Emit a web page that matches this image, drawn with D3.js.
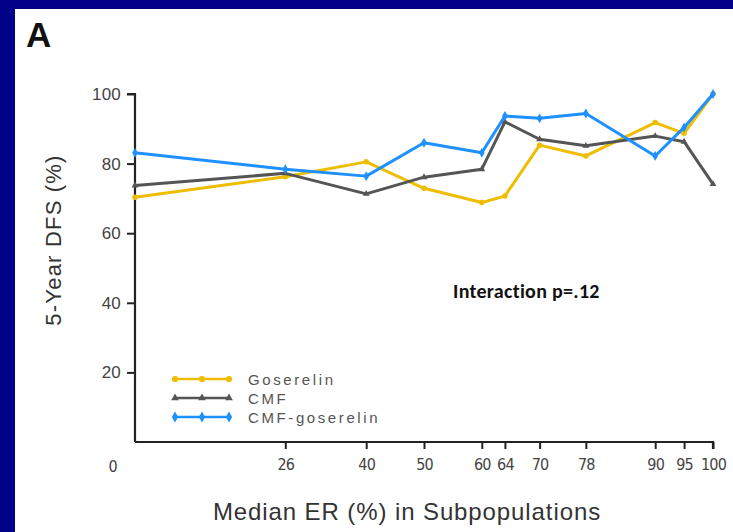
<!DOCTYPE html>
<html>
<head>
<meta charset="utf-8">
<script src="https://cdn.jsdelivr.net/npm/d3@7"></script>
<style>
  html, body { margin: 0; padding: 0; background: #000088; }
  svg { display: block; }
</style>
</head>
<body>
<script>
// Median ER (%) of each subpopulation
const medianER = [0, 26, 40, 50, 60, 64, 70, 78, 90, 95, 100];
// 5-year DFS (%) by treatment arm
const goserelin    = [70.3, 76.2, 80.5, 72.9, 68.8, 70.7, 85.3, 82.2, 91.8, 88.7, 100];
const cmf          = [73.7, 77.2, 71.3, 76.1, 78.4, 92.0, 87.0, 85.1, 87.9, 86.3, 74.1];
const cmfGoserelin = [83.1, 78.4, 76.4, 86.0, 83.1, 93.7, 93.0, 94.4, 82.2, 90.4, 100];
const seriesNames  = ["Goserelin", "CMF", "CMF-goserelin"];
const yTicks = [20, 40, 60, 80, 100];
const xTicks = [26, 40, 50, 60, 64, 70, 78, 90, 95, 100];

const W = 733, H = 532;
const svg = d3.select("body").append("svg").attr("width", W).attr("height", H);

// white panel inside the navy frame
svg.append("rect").attr("x", 15).attr("y", 9).attr("width", W - 15).attr("height", H - 9).attr("fill", "#ffffff");

svg.append("text").attr("x", 26).attr("y", 47)
  .attr("font-family", "Liberation Sans, Arial, sans-serif").attr("font-weight", "bold")
  .attr("font-size", 35).attr("fill", "#111").text("A");

const x = d3.scaleLinear().domain([0, 100]).range([135, 713]);
const y = d3.scaleLinear().domain([0, 100]).range([442, 94]);

const sans = "'Liberation Sans', Arial, sans-serif";
const narrow = "'DejaVu Sans Condensed', 'Liberation Sans Narrow', Arial, sans-serif";

// y axis
const yAxis = svg.append("g").attr("transform", `translate(${x(0)},0)`)
  .call(d3.axisLeft(y).tickValues(yTicks).tickSize(8).tickSizeOuter(0).tickPadding(6));
yAxis.select(".domain").attr("stroke", "#222").attr("stroke-width", 2.2).attr("d", `M-8,${y(100)}H0V${y(0)}`);
yAxis.selectAll(".tick line").attr("stroke", "#222").attr("stroke-width", 2);
yAxis.selectAll(".tick text").attr("font-family", sans).attr("font-size", 17)
  .attr("fill", "#444").attr("letter-spacing", "0.2px");

// x axis
const xAxis = svg.append("g").attr("transform", `translate(0,${y(0)})`)
  .call(d3.axisBottom(x).tickValues(xTicks).tickSize(7).tickSizeOuter(0).tickPadding(10));
xAxis.select(".domain").attr("stroke", "#222").attr("stroke-width", 2.2).attr("d", `M${x(0)},0H${x(100)}V7`);
xAxis.selectAll(".tick line").attr("stroke", "#222").attr("stroke-width", 2);
xAxis.selectAll(".tick text").attr("font-family", narrow).attr("font-size", 16)
  .attr("fill", "#444").attr("letter-spacing", "-0.8px");
// origin label
svg.append("text").attr("x", x(0) - 22).attr("y", y(0) + 30).attr("text-anchor", "middle")
  .attr("font-family", narrow).attr("font-size", 16).attr("fill", "#444").text("0");

// axis titles
svg.append("text").attr("transform", `translate(61,${(y(0) + y(100)) / 2 - 28}) rotate(-90)`)
  .attr("text-anchor", "middle").attr("font-family", sans).attr("font-size", 22)
  .attr("letter-spacing", "1.2px").attr("fill", "#333").text("5-Year DFS (%)");
svg.append("text").attr("x", 407).attr("y", 520).attr("text-anchor", "middle")
  .attr("font-family", sans).attr("font-size", 24).attr("letter-spacing", "0.9px")
  .attr("fill", "#333").text("Median ER (%) in Subpopulations");

// series
const series = [
  { name: seriesNames[0], values: goserelin, color: "#eebd00", shape: d3.symbolCircle, size: 24 },
  { name: seriesNames[1], values: cmf, color: "#555555", shape: d3.symbolTriangle, size: 20 },
  { name: seriesNames[2], values: cmfGoserelin, color: "#1e90ff", shape: d3.symbolDiamond, size: 28 }
];

const line = d3.line().x(d => x(d[0])).y(d => y(d[1]));
series.forEach(s => {
  const pts = medianER.map((m, i) => [m, s.values[i]]);
  svg.append("path").datum(pts).attr("d", line).attr("fill", "none")
    .attr("stroke", s.color).attr("stroke-width", 3).attr("stroke-linejoin", "round");
  svg.append("g").selectAll("path").data(pts).join("path")
    .attr("transform", d => `translate(${x(d[0])},${y(d[1])})`)
    .attr("d", d3.symbol(s.shape, s.size)).attr("fill", s.color);
});

// legend
const legend = svg.append("g");
series.forEach((s, i) => {
  const ly = 379 + i * 19;
  legend.append("line").attr("x1", 175).attr("x2", 229).attr("y1", ly).attr("y2", ly)
    .attr("stroke", s.color).attr("stroke-width", 2.5);
  [175, 202, 229].forEach(px => {
    legend.append("path").attr("transform", `translate(${px},${ly})`)
      .attr("d", d3.symbol(s.shape, s.size + 6)).attr("fill", s.color);
  });
  legend.append("text").attr("x", 248).attr("y", ly + 6)
    .attr("font-family", sans).attr("font-size", 15)
    .attr("letter-spacing", "2.6px").attr("fill", "#555").text(s.name);
});

svg.append("text").attr("x", 453).attr("y", 298)
  .attr("font-family", "Carlito, Lato, 'Open Sans', sans-serif").attr("font-weight", "bold")
  .attr("font-size", 20).attr("letter-spacing", "0.3px").attr("fill", "#111").text("Interaction p=.12");
</script>
</body>
</html>
